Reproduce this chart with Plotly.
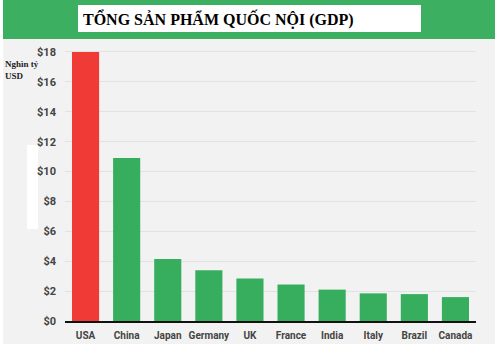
import plotly.graph_objects as go

countries = ["USA", "China", "Japan", "Germany", "UK", "France", "India", "Italy", "Brazil", "Canada"]
gdp = [18.0, 10.9, 4.15, 3.4, 2.85, 2.45, 2.1, 1.85, 1.8, 1.6]
tick_vals = [0, 2, 4, 6, 8, 10, 12, 14, 16, 18]
tick_text = ["$" + str(v) for v in tick_vals]
colors = ["#ef3a35"] + ["#37ae5e"] * (len(countries) - 1)

fig = go.Figure(go.Bar(x=countries, y=gdp, marker=dict(color=colors, line=dict(width=0))))

W, H = 500, 344
L, R, T, B = 65, 24, 49, 23
fig.update_layout(
    width=W, height=H,
    margin=dict(l=L, r=R, t=T, b=B, autoexpand=False),
    paper_bgcolor="white",
    plot_bgcolor="rgba(0,0,0,0)",
    bargap=0.34,
    showlegend=False,
    font=dict(family="Roboto", color="#444"),
)
fig.update_xaxes(
    showline=True, linecolor="#111", linewidth=1.5,
    tickfont=dict(family="Roboto", size=10, color="#444", weight="bold"),
    ticks="", showgrid=False, automargin=False, ticklabelstandoff=4,
)
fig.update_yaxes(
    range=[0, 18.2], tickvals=tick_vals, ticktext=tick_text,
    showgrid=True, gridcolor="#e2e2e2", gridwidth=1,
    zeroline=False, ticks="", ticklabelstandoff=8, automargin=False,
    tickfont=dict(family="Roboto", size=11, color="#444", weight="bold"),
)

def px_x(p):
    return (p - L) / (W - L - R)

def px_y(p):
    return (H - B - p) / (H - T - B)

rects = [
    (3, 495, 39, 344, "#f2f2f2"),
    (3, 495, 0, 39, "#3cb060"),
    (78, 421, 5, 32, "white"),
    (27, 38, 145, 229, "white"),
]
shapes = []
for x0, x1, y0, y1, c in rects:
    shapes.append(dict(type="rect", xref="paper", yref="paper",
                       x0=px_x(x0), x1=px_x(x1), y0=px_y(y1), y1=px_y(y0),
                       fillcolor=c, line=dict(width=0), layer="below"))
fig.update_layout(shapes=shapes)

fig.add_annotation(
    xref="paper", yref="paper", x=px_x(81), y=px_y(19),
    xanchor="left", yanchor="middle", showarrow=False,
    text="<b>TỔNG SẢN PHẨM QUỐC NỘI (GDP)</b>",
    font=dict(family="Liberation Serif", size=16, color="black"),
)
fig.add_annotation(
    xref="paper", yref="paper", x=px_x(3), y=px_y(57),
    xanchor="left", yanchor="top", showarrow=False, align="left",
    text="<b>Nghìn tỷ<br>USD</b>",
    font=dict(family="Liberation Serif", size=9, color="#222"),
)

fig.write_html("out.html")
